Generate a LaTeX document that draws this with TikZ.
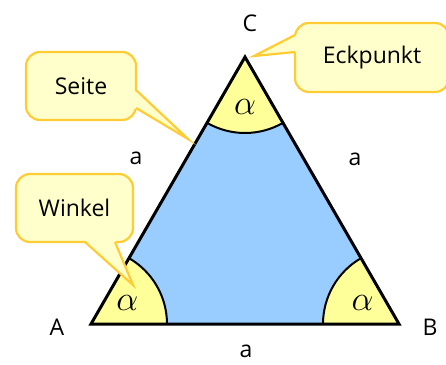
\documentclass[tikz,border=0pt]{standalone}
\usepackage{fontspec}
\setmainfont{Open Sans}
\usetikzlibrary{calc,positioning}

\definecolor{bubblefill}{HTML}{FFFFCC}
\definecolor{bubbleline}{HTML}{FFCC33}
\definecolor{anglefill}{HTML}{FFFF99}
\definecolor{areafill}{HTML}{99CCFF}

\begin{document}
\begin{tikzpicture}[
  x=1pt,y=1pt,
  font=\fontsize{23}{27}\selectfont,
  bubble/.style={draw=bubbleline,fill=bubblefill,line width=2.2pt,
    rounded corners=14pt,inner sep=0pt,outer sep=0pt},
  pointer/.style={draw=bubbleline,line width=2.2pt,line join=miter},
  sector/.style={fill=anglefill},
  rim/.style={line width=2pt},
  side/.style={line width=3pt,line join=miter},
  lbl/.style={inner sep=0pt}
]
  \useasboundingbox (0,0) rectangle (446,364);

  % Triangle corners
  \coordinate (A) at (91,40);
  \coordinate (B) at (399,40);
  \coordinate (C) at (245,307);

  \fill[areafill] (A) -- (B) -- (C) -- cycle;

  % Angles
  \fill[sector] (A) -- ++(0:76pt) arc[start angle=0,end angle=60,radius=76pt] -- cycle;
  \fill[sector] (B) -- ++(120:76pt) arc[start angle=120,end angle=180,radius=76pt] -- cycle;
  \fill[sector] (C) -- ++(240:76pt) arc[start angle=240,end angle=300,radius=76pt] -- cycle;
  \draw[rim] ($(A)+(0:76pt)$) arc[start angle=0,end angle=60,radius=76pt];
  \draw[rim] ($(B)+(120:76pt)$) arc[start angle=120,end angle=180,radius=76pt];
  \draw[rim] ($(C)+(240:76pt)$) arc[start angle=240,end angle=300,radius=76pt];

  \draw[side] (A) -- (B) -- (C) -- cycle;

  \node[lbl] (wA) at ($(A)+(30:42pt)$) {\scalebox{1.4}{$\alpha$}};
  \node[lbl] (wB) at ($(B)+(150:42pt)$) {\scalebox{1.4}{$\alpha$}};
  \node[lbl] (wC) at ($(C)+(270:50pt)$) {\scalebox{1.4}{$\alpha$}};

  % Corner and side labels
  \node[lbl] (lA) at (57,37) {A};
  \node[lbl] (lB) at (430,37) {B};
  \node[lbl] (lC) at (250,341) {C};
  \node[lbl] (sAB) at (246,13) {a};
  \node[lbl] (sAC) at (136,206) {a};
  \node[lbl] (sBC) at (355,205) {a};

  % Callouts
  \node[bubble,minimum width=110pt,minimum height=68pt] (seite) at (81,278) {Seite};
  \coordinate (seitetip) at (188,225);
  \fill[bubblefill] ([shift={(-2pt,-4pt)}]seite.east) -- (seitetip) -- ([shift={(-2pt,-22pt)}]seite.east) -- cycle;
  \draw[pointer] ([yshift=-4pt]seite.east) -- (seitetip) -- ([yshift=-22pt]seite.east);

  \node[bubble,minimum width=154pt,minimum height=69pt] (eck) at (372,306.5) {Eckpunkt};
  \coordinate (ecktip) at (254,308);
  \fill[bubblefill] ([shift={(2pt,22.5pt)}]eck.west) -- (ecktip) -- ([shift={(2pt,5.5pt)}]eck.west) -- cycle;
  \draw[pointer] ([yshift=22.5pt]eck.west) -- (ecktip) -- ([yshift=5.5pt]eck.west);

  \node[bubble,minimum width=117pt,minimum height=68pt] (winkel) at (74.5,156) {Winkel};
  \coordinate (winkeltip) at (133,79);
  \fill[bubblefill] ([shift={(10.5pt,2pt)}]winkel.south) -- (winkeltip) -- ([shift={(40.5pt,2pt)}]winkel.south) -- cycle;
  \draw[pointer] ([xshift=10.5pt]winkel.south) -- (winkeltip) -- ([xshift=40.5pt]winkel.south);
\end{tikzpicture}
\end{document}
